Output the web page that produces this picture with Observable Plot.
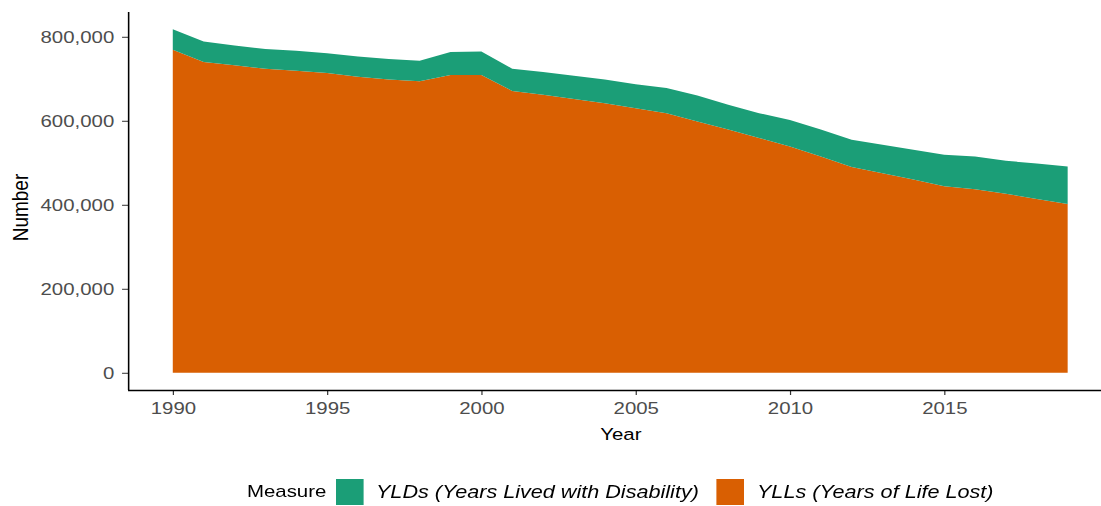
<!DOCTYPE html>
<html><head><meta charset="utf-8">
<script src="https://cdn.jsdelivr.net/npm/d3@7"></script>
<script src="https://cdn.jsdelivr.net/npm/@observablehq/plot@0.6"></script>
<style>
html,body{margin:0;padding:0;background:#fff;overflow:hidden;width:1101px;height:506px;}
#wrap{transform:scaleX(1.2);transform-origin:0 0;width:928px;font-family:"Liberation Sans",Arial,sans-serif;}
#legend{position:relative;height:56px;}
#legend .lt{position:absolute;line-height:22px;white-space:nowrap;color:#000;}
#legend .key{position:absolute;}
</style></head><body>
<div id="wrap"><div id="chart"></div><div id="legend"></div></div>
<script>
const years = [1990,1991,1992,1993,1994,1995,1996,1997,1998,1999,2000,2001,2002,2003,2004,2005,2006,2007,2008,2009,2010,2011,2012,2013,2014,2015,2016,2017,2018,2019];
const yll = [769000,740000,732000,724000,719000,714000,705000,698000,694000,709000,709000,671000,662000,652000,642000,630000,618000,598000,579000,559000,539000,515000,490000,475000,460000,444000,437000,426000,414000,402000];
const yld = [49000,49000,47000,47000,48000,47000,48000,49000,49000,55000,56000,53000,54000,55000,56000,57000,60000,62000,59000,59000,63000,64000,65000,68000,71000,75000,78000,79000,84000,89000];
const measures = ["YLDs (Years Lived with Disability)", "YLLs (Years of Life Lost)"];
const colors = ["#1b9e77", "#d95f02"];
const xTicks = [1990, 1995, 2000, 2005, 2010, 2015];
const yTicks = [0, 200000, 400000, 600000, 800000];
const xTitle = "Year", yTitle = "Number", legendTitle = "Measure";

const data = [];
years.forEach((yr, i) => data.push({year: yr, measure: measures[1], value: yll[i]}));
years.forEach((yr, i) => data.push({year: yr, measure: measures[0], value: yld[i]}));

const xDomain = [1988.55, 2020.45];
const yDomain = [-41000, 859000];

const chart = Plot.plot({
  width: 927, height: 450,
  marginLeft: 106.7, marginRight: 0, marginTop: 12, marginBottom: 60,
  style: {fontFamily: '"Liberation Sans", Arial, sans-serif', fontSize: "17px", color: "#4d4d4d", background: "white", overflow: "visible"},
  x: {domain: xDomain},
  y: {domain: yDomain},
  color: {domain: measures, range: colors},
  marks: [
    Plot.areaY(data, {x: "year", y: "value", z: "measure", fill: "measure", order: [measures[1], measures[0]]}),
    Plot.axisX({ticks: xTicks, tickFormat: d => String(d), tickSize: 5, tickPadding: 6, stroke: "#333", fill: "#4d4d4d", fontSize: 17, label: null}),
    Plot.axisY({ticks: yTicks, tickFormat: d3.format(","), tickSize: 5, tickPadding: 7, stroke: "#333", fill: "#4d4d4d", fontSize: 17, label: null}),
    Plot.ruleX([xDomain[0]], {stroke: "black", strokeWidth: 1.3}),
    Plot.ruleY([yDomain[0]], {stroke: "black", strokeWidth: 1.6}),
    Plot.text([xTitle], {text: d => d, frameAnchor: "bottom", dy: 44.5, textAnchor: "middle", lineAnchor: "middle", fill: "black", fontSize: 17}),
    Plot.text([yTitle], {text: d => d, frameAnchor: "left", dx: -90, dy: 6, rotate: -90, textAnchor: "middle", lineAnchor: "middle", fill: "black", fontSize: 19})
  ]
});
document.getElementById("chart").appendChild(chart);

// legend
const lg = document.getElementById("legend");
const t = document.createElement("div");
t.className = "lt"; t.textContent = legendTitle;
t.style.left = "205.8px"; t.style.top = "31px"; t.style.fontSize = "17px";
lg.appendChild(t);
const keyLefts = [280, 596.7];
const textLefts = [313.3, 630.8];
measures.forEach((m, i) => {
  const k = document.createElement("div");
  k.className = "key";
  k.style.left = keyLefts[i] + "px"; k.style.top = "29px";
  k.style.width = "23.3px"; k.style.height = "26px";
  k.style.background = colors[i];
  lg.appendChild(k);
  const s = document.createElement("div");
  s.className = "lt";
  s.textContent = m;
  s.style.left = textLefts[i] + "px"; s.style.top = "31px";
  s.style.fontSize = "18px"; s.style.fontStyle = "italic";
  lg.appendChild(s);
});
</script>
</body></html>
